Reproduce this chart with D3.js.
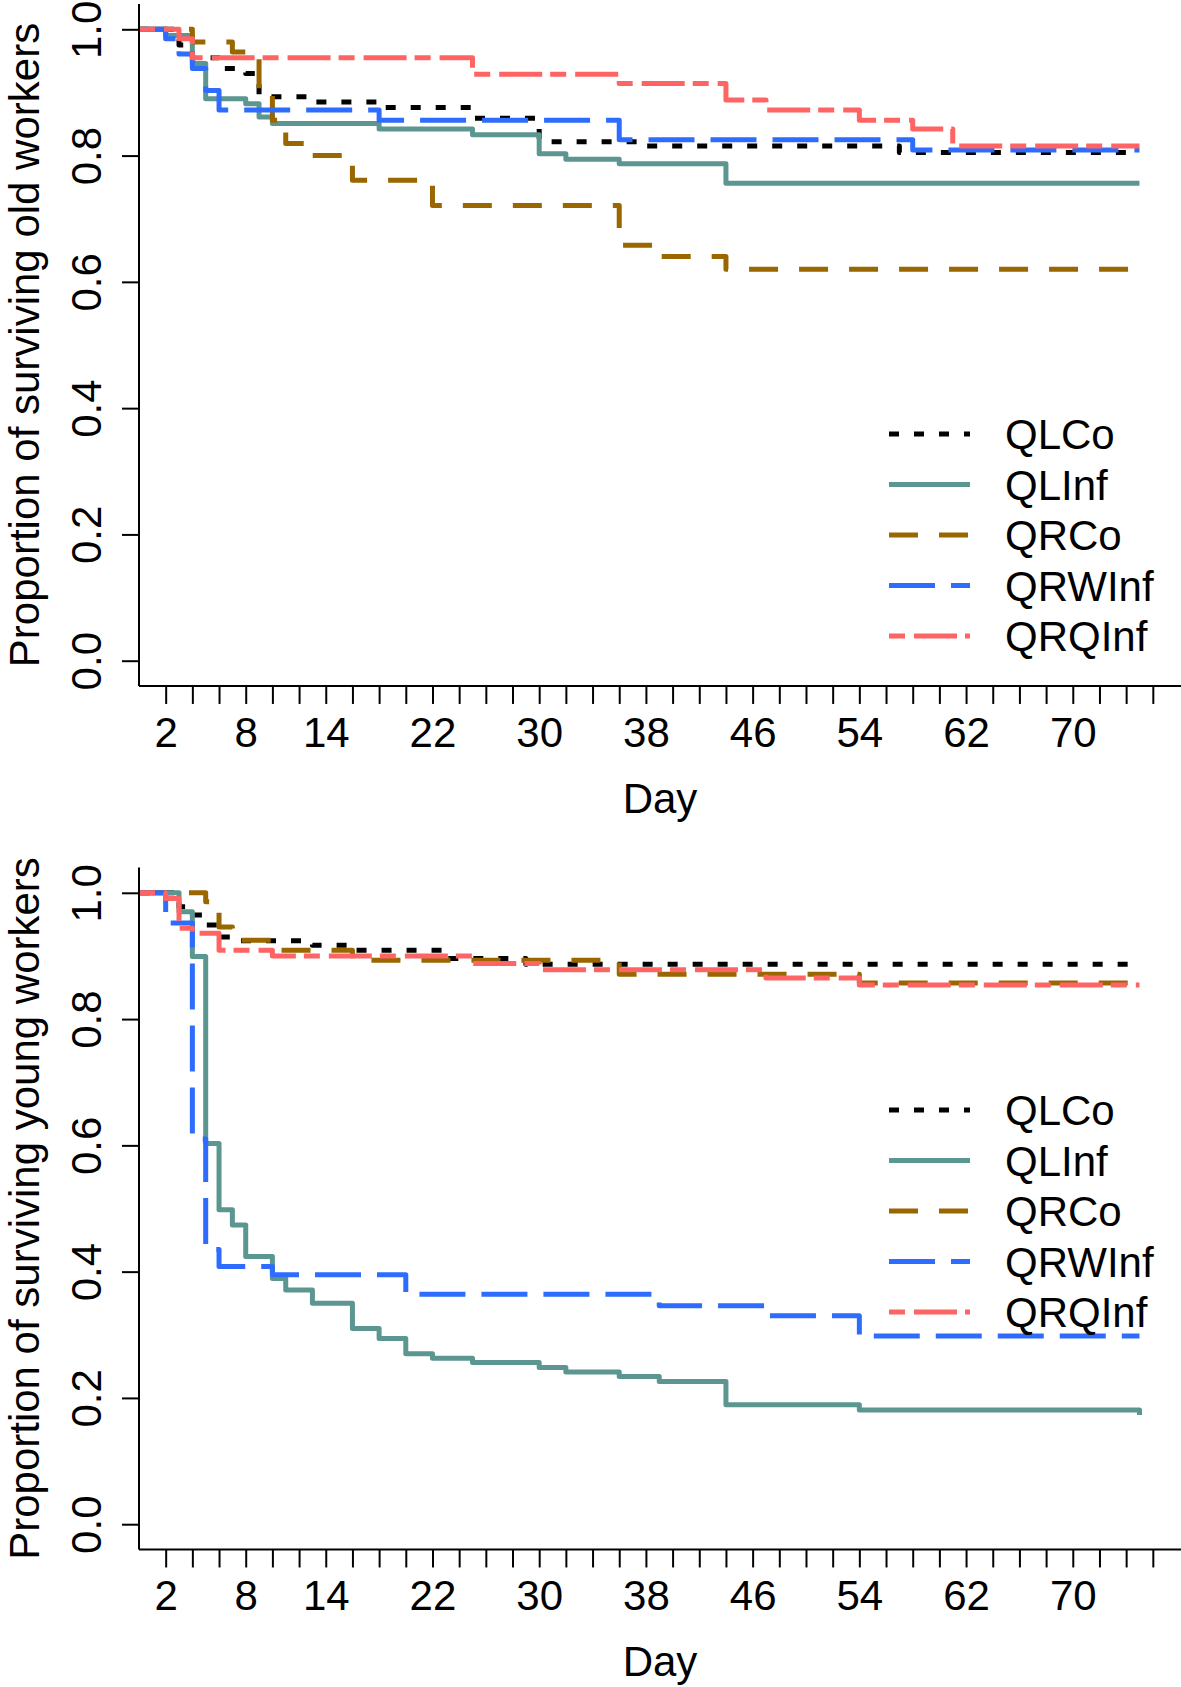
<!DOCTYPE html>
<html><head><meta charset="utf-8">
<script src="https://cdn.jsdelivr.net/npm/d3@7"></script>
<style>
body{margin:0;background:#fff}
svg{display:block}
text{font-family:"Liberation Sans",Arial,Helvetica,sans-serif}
</style>
</head><body>
<svg id="c" width="1181" height="1687"></svg>
<script>
// ---------- data ----------
const groups = ["QLCo", "QLInf", "QRCo", "QRWInf", "QRQInf"];
const xTickDays = d3.range(2, 77, 2);
const xLabelDays = [2, 8, 14, 22, 30, 38, 46, 54, 62, 70];
const yTickValues = [0, 0.2, 0.4, 0.6, 0.8, 1.0];

// Old workers
const oldQLCoDays   = [0, 3, 4, 6, 8, 9, 13, 18, 25, 30, 38, 57, 75];
const oldQLCoSurv   = [1, 0.975, 0.955, 0.938, 0.930, 0.893, 0.885, 0.876, 0.859, 0.822, 0.815, 0.805, 0.805];
const oldQLInfDays  = [0, 2, 4, 5, 8, 9, 10, 18, 25, 30, 32, 36, 44, 75];
const oldQLInfSurv  = [1, 0.990, 0.946, 0.890, 0.882, 0.861, 0.851, 0.842, 0.833, 0.803, 0.794, 0.787, 0.756, 0.756];
const oldQRCoDays   = [0, 4, 7, 9, 10, 11, 13, 16, 22, 36, 39, 44, 75];
const oldQRCoSurv   = [1, 0.980, 0.964, 0.900, 0.856, 0.819, 0.800, 0.761, 0.721, 0.658, 0.640, 0.620, 0.620];
const oldQRWInfDays = [0, 2, 3, 4, 5, 6, 18, 36, 58, 75];
const oldQRWInfSurv = [1, 0.985, 0.961, 0.938, 0.903, 0.872, 0.856, 0.825, 0.809, 0.809];
const oldQRQInfDays = [0, 3, 4, 25, 36, 44, 47, 54, 58, 61, 75];
const oldQRQInfSurv = [1, 0.985, 0.955, 0.929, 0.914, 0.888, 0.872, 0.856, 0.842, 0.815, 0.815];

// Young workers
const youngQLCoDays   = [0, 3, 4, 5, 6, 7, 13, 16, 23, 29, 75];
const youngQLCoSurv   = [1, 0.978, 0.965, 0.949, 0.930, 0.924, 0.917, 0.909, 0.896, 0.887, 0.882];
const youngQLInfDays  = [0, 3, 4, 5, 6, 7, 8, 10, 11, 13, 16, 18, 20, 22, 25, 30, 32, 36, 39, 44, 54, 75];
const youngQLInfSurv  = [1, 0.970, 0.899, 0.603, 0.498, 0.474, 0.424, 0.389, 0.371, 0.350, 0.310, 0.294, 0.270, 0.263, 0.256, 0.248, 0.241, 0.234, 0.226, 0.189, 0.181, 0.173];
const youngQRCoDays   = [0, 5, 6, 7, 10, 16, 36, 54, 75];
const youngQRCoSurv   = [1, 0.986, 0.946, 0.925, 0.909, 0.893, 0.871, 0.857, 0.857];
const youngQRWInfDays = [0, 2, 4, 5, 6, 10, 20, 39, 47, 54, 75];
const youngQRWInfSurv = [1, 0.952, 0.610, 0.435, 0.408, 0.395, 0.364, 0.346, 0.330, 0.298, 0.298];
const youngQRQInfDays = [0, 2, 3, 4, 6, 10, 25, 30, 47, 54, 75];
const youngQRQInfSurv = [1, 0.991, 0.944, 0.936, 0.909, 0.900, 0.888, 0.878, 0.865, 0.854, 0.854];

// ---------- styles / layout ----------
const styles = {
  QLCo:   {color: "#000000", dash: "10 15"},
  QLInf:  {color: "#5C9690", dash: null},
  QRCo:   {color: "#996600", dash: "29 21"},
  QRWInf: {color: "#2D6CFF", dash: "46 16"},
  QRQInf: {color: "#FF6464", dash: "16 9 43 8"}
};
const FS = 42;
const zip = (a, b) => a.map((v, i) => [v, b[i]]);

const panels = [
  {
    title: "Proportion of surviving old workers",
    y0: 660.7, y1: 29.3, legendTop: 434,
    series: [zip(oldQLCoDays, oldQLCoSurv), zip(oldQLInfDays, oldQLInfSurv), zip(oldQRCoDays, oldQRCoSurv),
             zip(oldQRWInfDays, oldQRWInfSurv), zip(oldQRQInfDays, oldQRQInfSurv)]
  },
  {
    title: "Proportion of surviving young workers",
    y0: 660.7 + 863.5, y1: 29.3 + 863.5, legendTop: 1110,
    series: [zip(youngQLCoDays, youngQLCoSurv), zip(youngQLInfDays, youngQLInfSurv), zip(youngQRCoDays, youngQRCoSurv),
             zip(youngQRWInfDays, youngQRWInfSurv), zip(youngQRQInfDays, youngQRQInfSurv)]
  }
];

const svg = d3.select("#c");
svg.append("rect").attr("width", 1181).attr("height", 1687).attr("fill", "#fff");

panels.forEach(p => {
  const g = svg.append("g");
  const x = d3.scaleLinear().domain([0, 78]).range([139, 1179.5]);
  const y = d3.scaleLinear().domain([0, 1]).range([p.y0, p.y1]);
  const yB = y(-0.04), yT = y(1.04);

  // curves
  const line = d3.line().x(d => x(d[0])).y(d => y(d[1])).curve(d3.curveStepAfter);
  groups.forEach((name, i) => {
    const st = styles[name];
    g.append("path").datum(p.series[i]).attr("d", line)
      .attr("fill", "none").attr("stroke", st.color).attr("stroke-width", 5)
      .attr("stroke-linejoin", "round").attr("stroke-linecap", "butt")
      .attr("stroke-dasharray", st.dash);
  });

  // box (L shape)
  g.append("line").attr("x1", x(0)).attr("x2", 1181).attr("y1", yB).attr("y2", yB)
    .attr("stroke", "#000").attr("stroke-width", 2);
  g.append("line").attr("x1", x(0)).attr("x2", x(0)).attr("y1", yT).attr("y2", yB)
    .attr("stroke", "#000").attr("stroke-width", 2);

  // x axis
  const xa = d3.axisBottom(x).tickValues(xTickDays).tickSize(18).tickPadding(13)
    .tickFormat(d => xLabelDays.includes(d) ? String(d) : "");
  const gx = g.append("g").attr("transform", `translate(0,${yB})`).call(xa);
  gx.select(".domain").remove();
  gx.selectAll(".tick line").attr("stroke", "#000").attr("stroke-width", 2);
  gx.selectAll(".tick text").attr("fill", "#000").attr("font-size", FS)
    .attr("font-family", '"Liberation Sans",Arial,sans-serif');

  // y axis
  const ya = d3.axisLeft(y).tickValues(yTickValues).tickSize(17).tickFormat(d3.format(".1f"));
  const gy = g.append("g").attr("transform", `translate(${x(0)},0)`).call(ya);
  gy.select(".domain").remove();
  gy.selectAll(".tick line").attr("stroke", "#000").attr("stroke-width", 2);
  gy.selectAll(".tick text").attr("fill", "#000").attr("font-size", FS)
    .attr("font-family", '"Liberation Sans",Arial,sans-serif')
    .attr("x", 0).attr("dy", 0).attr("text-anchor", "middle")
    .attr("transform", "translate(-38,0) rotate(-90)");

  // titles
  g.append("text").attr("x", (x(0) + 1181) / 2).attr("y", yB + 127).attr("text-anchor", "middle")
    .attr("font-size", FS).text("Day");
  g.append("text").attr("transform", `translate(39,${(yT + yB) / 2}) rotate(-90)`)
    .attr("text-anchor", "middle").attr("font-size", FS).text(p.title);

  // legend
  groups.forEach((name, i) => {
    const st = styles[name];
    const cy = p.legendTop + i * 50.5;
    g.append("line").attr("x1", 889).attr("x2", 970).attr("y1", cy).attr("y2", cy)
      .attr("stroke", st.color).attr("stroke-width", 5).attr("stroke-dasharray", st.dash);
    g.append("text").attr("x", 1005).attr("y", cy).attr("dy", "0.36em")
      .attr("font-size", FS).attr("fill", "#000").text(name);
  });
});
</script>
</body></html>
